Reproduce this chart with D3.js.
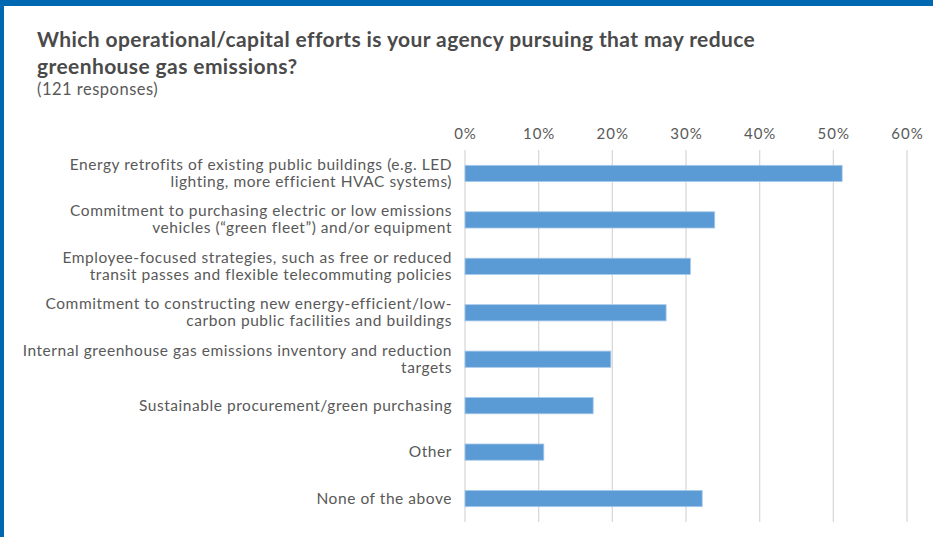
<!DOCTYPE html>
<html>
<head>
<meta charset="utf-8">
<script src="https://cdnjs.cloudflare.com/ajax/libs/d3/7.8.5/d3.min.js"></script>
<style>
  body { margin: 0; background: #fff; }
  text { font-family: Lato, "Open Sans", sans-serif; }
</style>
</head>
<body>
<div id="chart"></div>
<script>
// survey answers, 121 responses
var categories = [
  ["Energy retrofits of existing public buildings (e.g. LED", "lighting, more efficient HVAC systems)"],
  ["Commitment to purchasing electric or low emissions", "vehicles (\u201cgreen fleet\u201d) and/or equipment"],
  ["Employee-focused strategies, such as free or reduced", "transit passes and flexible telecommuting policies"],
  ["Commitment to constructing new energy-efficient/low-", "carbon public facilities and buildings"],
  ["Internal greenhouse gas emissions inventory and reduction", "targets"],
  ["Sustainable procurement/green purchasing"],
  ["Other"],
  ["None of the above"]
];
var values = [0.512, 0.339, 0.306, 0.273, 0.198, 0.174, 0.107, 0.322];
var ticks = [0, 0.1, 0.2, 0.3, 0.4, 0.5, 0.6];

var width = 933, height = 537;
var svg = d3.select("#chart").append("svg")
  .attr("width", width).attr("height", height);

// blue frame
svg.append("rect").attr("x", 0).attr("y", 0).attr("width", width).attr("height", 6).attr("fill", "#0067b1");
svg.append("rect").attr("x", 0).attr("y", 0).attr("width", 4).attr("height", height).attr("fill", "#0067b1");

svg.append("text").attr("x", 37).attr("y", 47)
  .attr("font-size", 21).attr("font-weight", "bold").attr("fill", "#4a4a4a")
  .attr("letter-spacing", 0.4)
  .text("Which operational/capital efforts is your agency pursuing that may reduce");
svg.append("text").attr("x", 37).attr("y", 74)
  .attr("font-size", 21).attr("font-weight", "bold").attr("fill", "#4a4a4a")
  .attr("letter-spacing", 0.4)
  .text("greenhouse gas emissions?");
svg.append("text").attr("x", 37).attr("y", 95)
  .attr("font-size", 16.5).attr("fill", "#595959")
  .attr("letter-spacing", 0.5)
  .text("(121 responses)");

var x = d3.scaleLinear().domain([0, 0.6]).range([465, 907]);
var y = d3.scaleBand().domain(d3.range(categories.length)).range([150, 522]).paddingInner(0.65).paddingOuter(0.33);

var g = svg.append("g");

g.selectAll(".grid").data(ticks).enter().append("line")
  .attr("class", "grid")
  .attr("x1", function(d) { return x(d); })
  .attr("x2", function(d) { return x(d); })
  .attr("y1", 150).attr("y2", 522)
  .attr("stroke", "#d9d9d9").attr("stroke-width", 1.3);

var axis = d3.axisTop(x).tickValues(ticks).tickFormat(d3.format(".0%")).tickSize(0).tickPadding(0);
var ax = g.append("g").attr("transform", "translate(0,139)").call(axis);
ax.select(".domain").remove();
ax.selectAll("text").attr("font-size", 15).attr("fill", "#595959")
  .attr("letter-spacing", 1)
  .style("font-family", "Lato, sans-serif");

g.selectAll(".bar").data(values).enter().append("rect")
  .attr("class", "bar")
  .attr("x", x(0))
  .attr("y", function(d, i) { return y(i); })
  .attr("width", function(d) { return x(d) - x(0); })
  .attr("height", y.bandwidth())
  .attr("fill", "#5b9bd5")
  .attr("stroke", "#a9c9ea").attr("stroke-width", 0.8);

var lab = g.selectAll(".lab").data(categories).enter().append("text")
  .attr("class", "lab")
  .attr("text-anchor", "end")
  .attr("font-size", 15.5).attr("fill", "#595959")
  .attr("letter-spacing", 0.55)
  .attr("transform", function(d, i) {
    var cy = y(i) + y.bandwidth() / 2;
    return "translate(452," + (cy + 5 - (d.length - 1) * 8.5) + ")";
  });
lab.selectAll("tspan").data(function(d) { return d; }).enter().append("tspan")
  .attr("x", 0)
  .attr("dy", function(d, i) { return i ? 17 : 0; })
  .text(function(d) { return d; });
</script>
</body>
</html>
